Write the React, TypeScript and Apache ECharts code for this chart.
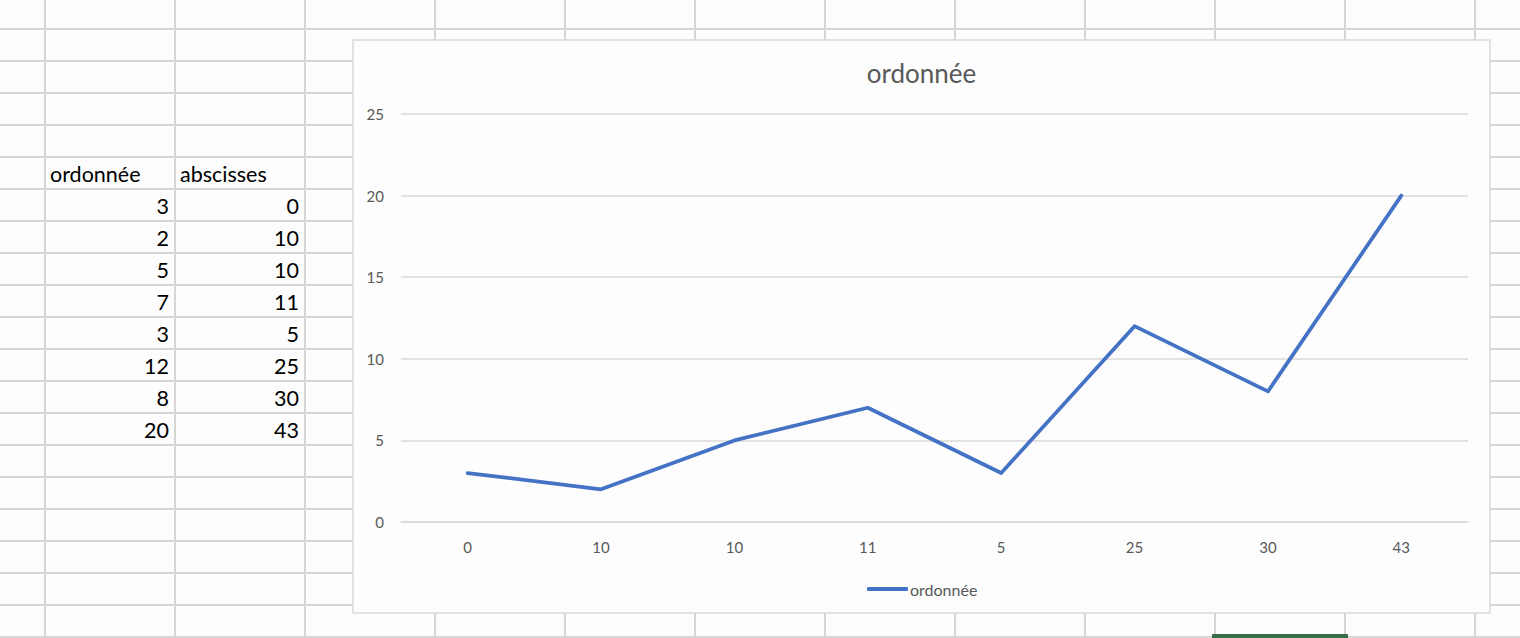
import React, { useEffect, useRef } from "react";
import * as echarts from "echarts";

// ---- data (read from the spreadsheet / chart) ----
const ordonnee = [3, 2, 5, 7, 3, 12, 8, 20];
const abscisses = [0, 10, 10, 11, 5, 25, 30, 43];
const headerLabels = ["ordonnée", "abscisses"];
const seriesName = "ordonnée";
const yTicks = { min: 0, max: 25, interval: 5 };

const W = 1520;
const H = 638;
const BG = "#fcfdfc";
const CELL_LINE = "#d6d6d6";
const TEXT_GREY = "#595959";
const FONT = "Lato, 'Open Sans', sans-serif";

function buildGraphic() {
  const els: any[] = [];
  // spreadsheet grid
  const colX: number[] = [];
  for (let x = 45; x <= W; x += 130) colX.push(x);
  const rowY: number[] = [];
  for (let y = 29; y <= H; y += 32) rowY.push(y);
  colX.forEach((x) =>
    els.push({
      type: "line",
      z: -10,
      silent: true,
      shape: { x1: x, y1: 0, x2: x, y2: H },
      style: { stroke: CELL_LINE, lineWidth: 2 },
    })
  );
  rowY.forEach((y) =>
    els.push({
      type: "line",
      z: -10,
      silent: true,
      shape: { x1: 0, y1: y, x2: W, y2: y },
      style: { stroke: CELL_LINE, lineWidth: 2 },
    })
  );
  // header cells
  const headerRowMid = 173;
  const rowH = 32;
  headerLabels.forEach((label, i) => {
    els.push({
      type: "text",
      z: -9,
      silent: true,
      style: {
        text: label,
        x: i === 0 ? 50 : 180,
        y: headerRowMid + 1,
        fill: "#000",
        font: `21.5px ${FONT}`,
        align: "left",
        verticalAlign: "middle",
      },
    });
  });
  ordonnee.forEach((v, i) => {
    const y = headerRowMid + rowH * (i + 1) + 1;
    els.push({
      type: "text",
      z: -9,
      silent: true,
      style: {
        text: String(v),
        x: 169,
        y,
        fill: "#000",
        font: `21.5px ${FONT}`,
        align: "right",
        verticalAlign: "middle",
      },
    });
    els.push({
      type: "text",
      z: -9,
      silent: true,
      style: {
        text: String(abscisses[i]),
        x: 299,
        y,
        fill: "#000",
        font: `21.5px ${FONT}`,
        align: "right",
        verticalAlign: "middle",
      },
    });
  });
  // green selected-tab bar at the bottom
  els.push({
    type: "rect",
    z: -9,
    silent: true,
    shape: { x: 1212, y: 634, width: 136, height: 4 },
    style: { fill: "#386d4a" },
  });
  // chart area box
  els.push({
    type: "rect",
    z: -5,
    silent: true,
    shape: { x: 353, y: 40, width: 1137, height: 573 },
    style: { fill: BG, stroke: "#d9d9d9", lineWidth: 1.5 },
  });
  // chart title
  els.push({
    type: "text",
    z: 5,
    silent: true,
    style: {
      text: seriesName,
      x: 921.5,
      y: 73,
      fill: TEXT_GREY,
      font: `26px ${FONT}`,
      align: "center",
      verticalAlign: "middle",
    },
  });
  return els;
}

export default function App() {
  const ref = useRef<HTMLDivElement>(null);
  useEffect(() => {
    document.body.style.margin = "0";
    if (!ref.current) return;
    const chart = echarts.init(ref.current, null, { renderer: "svg" });
    chart.setOption({
      animation: false,
      backgroundColor: BG,
      textStyle: { fontFamily: FONT },
      graphic: { elements: buildGraphic() },
      grid: { left: 401, right: 52, top: 114, bottom: 116, containLabel: false },
      legend: {
        data: [seriesName],
        left: 862,
        top: 576,
        icon: "roundRect",
        itemWidth: 41,
        itemHeight: 4,
        textStyle: {
          color: TEXT_GREY,
          fontSize: 16,
          fontFamily: FONT,
          padding: [0, 0, 0, -3],
        },
      },
      xAxis: {
        type: "category",
        data: abscisses.map(String),
        boundaryGap: true,
        axisLine: { show: true, lineStyle: { color: "#d9d9d9", width: 1.5 } },
        axisTick: { show: false },
        axisLabel: { color: TEXT_GREY, fontSize: 15, fontFamily: FONT, margin: 17 },
        splitLine: { show: false },
      },
      yAxis: {
        type: "value",
        min: yTicks.min,
        max: yTicks.max,
        interval: yTicks.interval,
        axisLine: { show: false },
        axisTick: { show: false },
        axisLabel: { color: TEXT_GREY, fontSize: 15, fontFamily: FONT, margin: 17 },
        splitLine: { lineStyle: { color: "#d9d9d9", width: 1.5 } },
      },
      series: [
        {
          name: seriesName,
          type: "line",
          data: ordonnee,
          symbol: "none",
          lineStyle: { color: "#4472c4", width: 3.75, cap: "round", join: "round" },
          itemStyle: { color: "#4472c4" },
        },
      ],
    });
    return () => chart.dispose();
  }, []);
  return <div ref={ref} style={{ width: W, height: H }} />;
}
